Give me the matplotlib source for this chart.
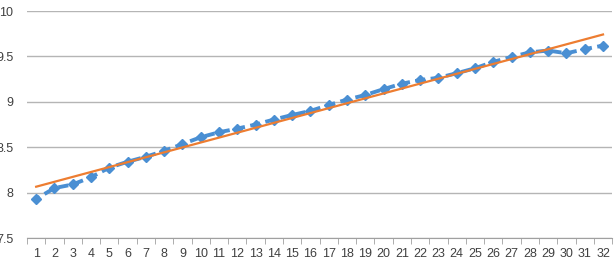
import numpy as np
import matplotlib
matplotlib.use("Agg")
import matplotlib.pyplot as plt

plt.rcParams['font.family'] = ['Liberation Sans', 'DejaVu Sans']

x = list(range(1, 33))
values = [7.93, 8.05, 8.09, 8.17, 8.275, 8.34, 8.395, 8.46, 8.535, 8.61,
          8.665, 8.705, 8.75, 8.805, 8.855, 8.90, 8.965, 9.025, 9.075, 9.14,
          9.20, 9.24, 9.265, 9.315, 9.37, 9.44, 9.495, 9.545, 9.565, 9.535,
          9.58, 9.62]
ytick_vals = [7.5, 8, 8.5, 9, 9.5, 10]
ytick_labels = ['7.5', '8', '8.5', '9', '9.5', '10']

blue = '#4a8fd3'
orange = '#ed7d31'

fig = plt.figure(figsize=(6.14, 2.63), dpi=100)
ax = fig.add_axes([0.044, 0.095, 0.953, 0.863])

# linear trend from the series
k, b = np.polyfit(x, values, 1)
trend = [k * xi + b for xi in x]

ax.plot(x, values, color=blue, lw=2.8, ls=(1.5, (2.6, 1.4)), marker='D',
        ms=5.6, mec=blue, mfc=blue, zorder=3)
ax.plot(x, trend, color=orange, lw=1.6, zorder=4)

ax.set_xlim(0.5, 32.5)
ax.set_ylim(7.5, 10)
ax.set_yticks(ytick_vals)
ax.set_yticklabels(ytick_labels)
ax.set_xticks(x)
ax.set_xticks([i + 0.5 for i in range(0, 33)], minor=True)
ax.tick_params(axis='x', which='major', length=0, pad=7, labelsize=9, colors='#404040')
ax.tick_params(axis='x', which='minor', length=4, color='#a0a0a0')
ax.tick_params(axis='y', length=0, pad=10, labelsize=9, colors='#404040')

ax.grid(axis='y', color='#b5b5b5', lw=1)
ax.set_axisbelow(True)
for s in ['top', 'right', 'left']:
    ax.spines[s].set_visible(False)
ax.spines['bottom'].set_color('#a0a0a0')

fig.savefig('out.png', dpi=100)
